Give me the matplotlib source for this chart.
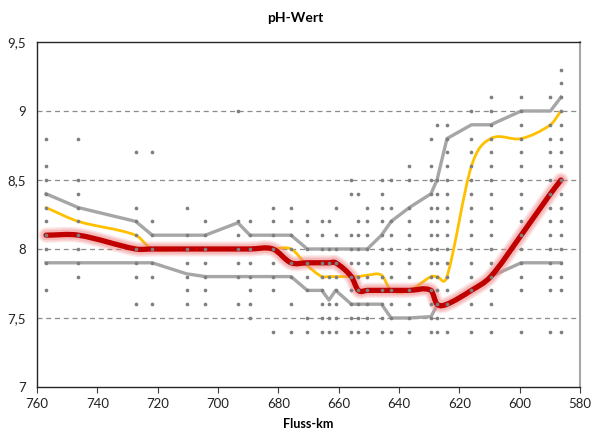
import matplotlib
matplotlib.use("Agg")
import matplotlib.pyplot as plt
from matplotlib.path import Path
from matplotlib.patches import PathPatch

plt.rcParams['font.family'] = ['Lato', 'DejaVu Sans']

# Messstellen (Fluss-km) und Einzelwerte je Messstelle
km = [757.0, 746.3, 727.3, 721.8, 710.4, 704.2, 693.4, 689.4, 681.8, 675.8,
      670.4, 665.6, 663.2, 661.0, 655.8, 653.5, 650.5, 645.8, 642.6, 636.6,
      629.4, 627.4, 624.1, 616.0, 609.6, 599.5, 589.8, 586.3]

messwerte = [
    [8.8, 8.6, 8.5, 8.4, 8.3, 8.2, 8.1, 8.0, 7.9, 7.7],
    [8.8, 8.5, 8.4, 8.3, 8.2, 8.1, 8.0, 7.9, 7.8],
    [8.7, 8.3, 8.2, 8.1, 8.0, 7.9, 7.8, 7.6],
    [8.7, 8.2, 8.1, 8.0, 7.9, 7.8, 7.6],
    [8.3, 8.1, 8.0, 7.9, 7.8, 7.7, 7.6],
    [8.2, 8.1, 8.0, 7.9, 7.8, 7.7, 7.6],
    [9.0, 8.2, 8.1, 8.0, 7.9, 7.8, 7.6],
    [8.2, 8.1, 8.0, 7.9, 7.8, 7.7, 7.6, 7.5],
    [8.3, 8.2, 8.1, 8.0, 7.9, 7.8, 7.7, 7.4],
    [8.3, 8.2, 8.1, 8.0, 7.9, 7.8, 7.6, 7.4],
    [8.2, 8.1, 8.0, 7.9, 7.8, 7.7, 7.5, 7.4],
    [8.2, 8.1, 8.0, 7.9, 7.8, 7.7, 7.6, 7.5, 7.4],
    [8.2, 8.0, 7.9, 7.8, 7.6, 7.5, 7.4],
    [8.3, 8.1, 8.0, 7.9, 7.8, 7.7, 7.6, 7.5, 7.4],
    [8.5, 8.4, 8.1, 8.0, 7.9, 7.8, 7.7, 7.6, 7.5, 7.4],
    [8.4, 8.2, 8.1, 8.0, 7.9, 7.8, 7.7, 7.6, 7.5, 7.4],
    [8.3, 8.2, 8.1, 8.0, 7.9, 7.8, 7.7, 7.6, 7.5, 7.4],
    [8.5, 8.4, 8.3, 8.2, 8.1, 8.0, 7.9, 7.8, 7.7, 7.6, 7.5, 7.4],
    [8.5, 8.3, 8.2, 8.1, 8.0, 7.9, 7.8, 7.7, 7.6, 7.5, 7.4],
    [8.6, 8.5, 8.3, 8.2, 8.1, 8.0, 7.9, 7.8, 7.7, 7.6, 7.5, 7.4],
    [8.8, 8.6, 8.5, 8.4, 8.3, 8.2, 8.1, 8.0, 7.9, 7.8, 7.7, 7.6, 7.5, 7.4],
    [8.9, 8.5, 8.4, 8.3, 8.2, 8.1, 8.0, 7.9, 7.8, 7.7, 7.6, 7.5, 7.4],
    [8.9, 8.8, 8.7, 8.6, 8.5, 8.4, 8.3, 8.2, 8.1, 8.0, 7.9, 7.8, 7.7, 7.6, 7.4],
    [9.0, 8.8, 8.7, 8.6, 8.5, 8.4, 8.3, 8.2, 8.1, 8.0, 7.9, 7.8, 7.7, 7.6, 7.4],
    [9.1, 9.0, 8.9, 8.8, 8.7, 8.6, 8.5, 8.4, 8.3, 8.2, 8.1, 8.0, 7.9, 7.8, 7.7, 7.6, 7.4],
    [9.1, 9.0, 8.9, 8.8, 8.7, 8.6, 8.5, 8.4, 8.3, 8.2, 8.1, 8.0, 7.9, 7.8, 7.7, 7.4],
    [9.1, 8.9, 8.8, 8.7, 8.6, 8.5, 8.4, 8.3, 8.2, 8.1, 8.0, 7.9, 7.8, 7.7, 7.4],
    [9.3, 9.2, 9.1, 9.0, 8.9, 8.8, 8.7, 8.6, 8.5, 8.4, 8.3, 8.2, 8.1, 8.0, 7.9, 7.8, 7.7, 7.4],
]

# Kennlinien je Messstelle
oberer_wert = [8.4, 8.3, 8.2, 8.1, 8.1, 8.1, 8.19, 8.1, 8.1, 8.1,
               8.0, 8.0, 8.0, 8.0, 8.0, 8.0, 8.0, 8.1, 8.2, 8.3,
               8.4, 8.5, 8.8, 8.9, 8.9, 9.0, 9.0, 9.1]
unterer_wert = [7.9, 7.9, 7.9, 7.9, 7.82, 7.8, 7.8, 7.8, 7.8, 7.8,
                7.7, 7.7, 7.63, 7.7, 7.6, 7.6, 7.6, 7.6, 7.5, 7.5,
                7.51, 7.59, 7.6, 7.7, 7.8, 7.9, 7.9, 7.9]
mittelwert = [8.3, 8.2, 8.1, 8.0, 8.0, 8.0, 8.0, 8.0, 8.0, 8.0,
              7.88, 7.8, 7.8, 7.8, 7.8, 7.8, 7.81, 7.81, 7.7, 7.7,
              7.8, 7.8, 7.8, 8.6, 8.8, 8.8, 8.9, 9.0]
median = [8.1, 8.1, 8.0, 8.0, 8.0, 8.0, 8.0, 8.0, 8.0, 7.9,
          7.9, 7.9, 7.9, 7.9, 7.8, 7.7, 7.7, 7.7, 7.7, 7.7,
          7.7, 7.6, 7.6, 7.7, 7.8, 8.1, 8.4, 8.5]

y_ticks = [7.0, 7.5, 8.0, 8.5, 9.0, 9.5]
y_labels = ['7', '7,5', '8', '8,5', '9', '9,5']
x_ticks = [760, 740, 720, 700, 680, 660, 640, 620, 600, 580]


def glatte_kurve(x, y):
    """Geglaettete Linie als Bezier-Pfad, Tangenten nach Abstand gewichtet."""
    n = len(x)
    verts = [(x[0], y[0])]
    codes = [Path.MOVETO]

    def tangente(i):
        a = max(i - 1, 0)
        b = min(i + 1, n - 1)
        return (x[b] - x[a], y[b] - y[a]), abs(x[b] - x[a])

    for i in range(n - 1):
        d = abs(x[i + 1] - x[i])
        (tx0, ty0), s0 = tangente(i)
        (tx1, ty1), s1 = tangente(i + 1)
        f0 = d / s0 / 3
        f1 = d / s1 / 3
        c1 = (x[i] + tx0 * f0, y[i] + ty0 * f0)
        c2 = (x[i + 1] - tx1 * f1, y[i + 1] - ty1 * f1)
        verts += [c1, c2, (x[i + 1], y[i + 1])]
        codes += [Path.CURVE4] * 3
    return Path(verts, codes)


fig = plt.figure(figsize=(5.91, 4.32), dpi=100)
ax = fig.add_axes([0.0626, 0.1042, 0.9188, 0.7986])

for g in [7.5, 8.0, 8.5, 9.0]:
    ax.axhline(g, color='#8c8c8c', lw=0.9, ls=(0, (4, 3)), zorder=1)

ax.plot(km, oberer_wert, color='#a6a6a6', lw=2.4, zorder=2, solid_joinstyle='round')
ax.plot(km, unterer_wert, color='#a6a6a6', lw=2.4, zorder=2, solid_joinstyle='round')

ax.add_patch(PathPatch(glatte_kurve(km, mittelwert), fill=False, edgecolor='#ffc000',
                       lw=2.0, zorder=3, capstyle='round'))

# roter Median mit weichem Schein
for breite, alpha in [(11, 0.18), (9, 0.22), (7, 0.3)]:
    ax.add_patch(PathPatch(glatte_kurve(km, median), fill=False, edgecolor='#f08080',
                           lw=breite, alpha=alpha, zorder=4, capstyle='round'))
ax.add_patch(PathPatch(glatte_kurve(km, median), fill=False, edgecolor='#c00000',
                       lw=3.8, zorder=5, capstyle='round'))

xs = [k for k, werte in zip(km, messwerte) for _ in werte]
ys = [w for werte in messwerte for w in werte]
ax.scatter(xs, ys, s=7, color='#7f7f7f', linewidths=0, zorder=6)

ax.set_xlim(760, 580)
ax.set_ylim(7, 9.5)
ax.set_xticks(x_ticks)
ax.set_xticklabels([str(t) for t in x_ticks])
ax.set_yticks(y_ticks)
ax.set_yticklabels(y_labels)
ax.tick_params(axis='x', direction='out', length=4, width=0.8, color='#404040',
               labelsize=9.5, pad=4, labelcolor='#222222')
ax.tick_params(axis='y', length=0, labelsize=9.5, pad=8, labelcolor='#222222')

for side in ['left', 'bottom', 'top']:
    ax.spines[side].set_color('#262626')
    ax.spines[side].set_linewidth(1.0)
ax.spines['right'].set_color('#a6a6a6')
ax.spines['right'].set_linewidth(1.5)

fig.text(0.5, 0.958, 'pH-Wert', ha='center', va='center', fontsize=10, fontweight='bold')
ax.set_xlabel('Fluss-km', fontsize=9, fontweight='bold', labelpad=6)

fig.savefig('out.png', dpi=100)
